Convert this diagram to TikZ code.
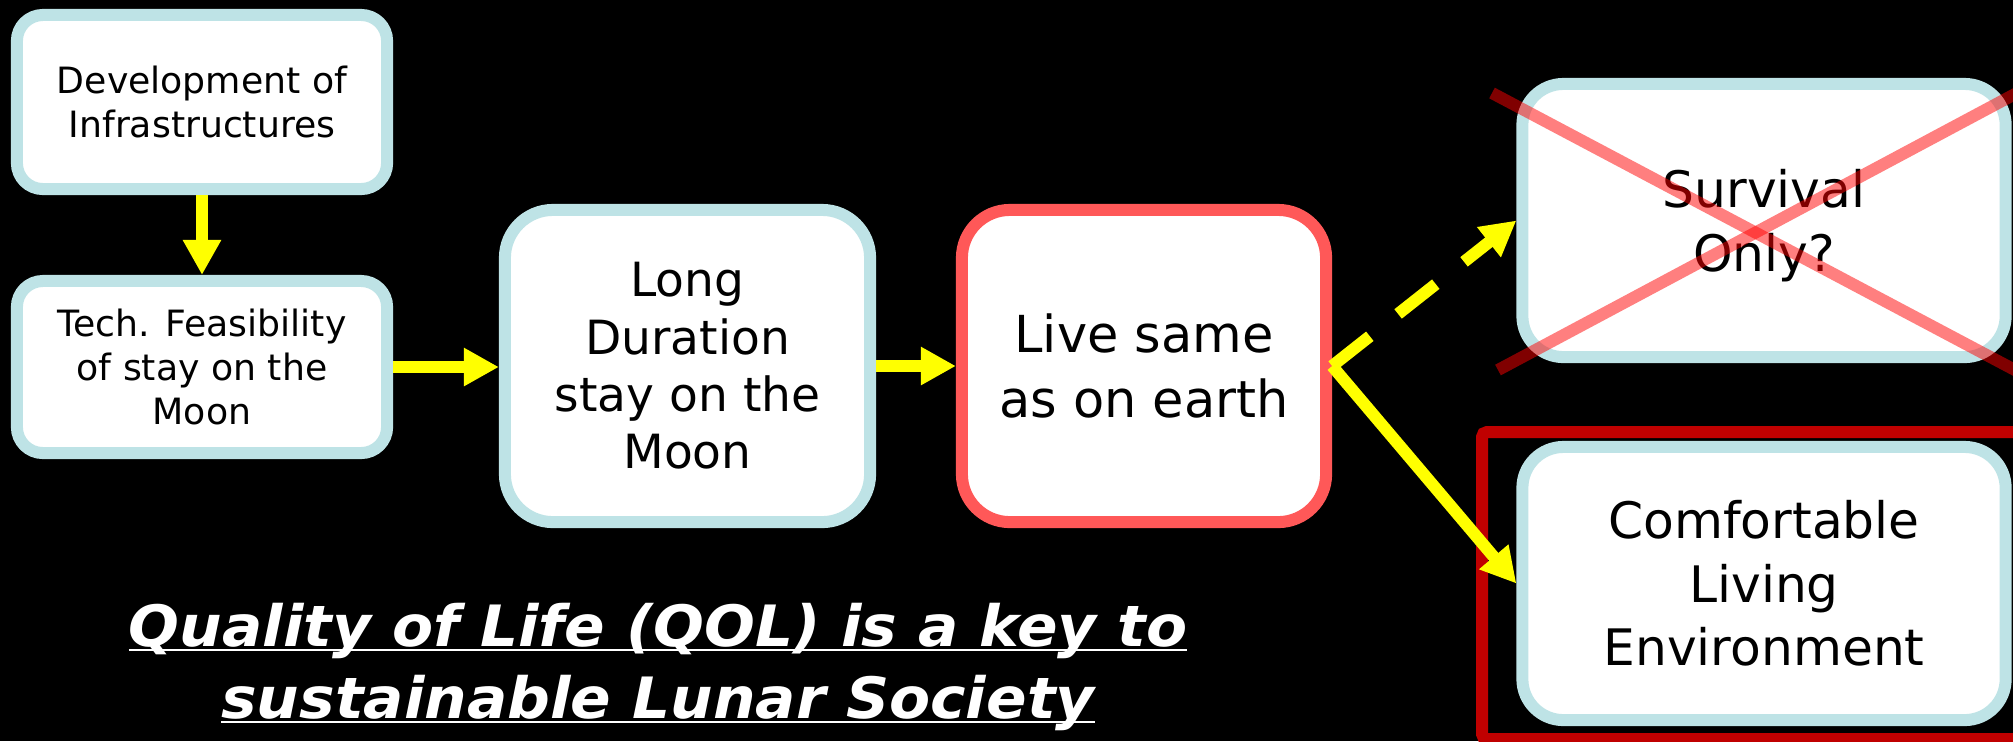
\documentclass[tikz,border=0pt]{standalone}
\usepackage{fontspec}
\setmainfont{DejaVu Sans}
\newfontfamily\qolfont{DejaVu Sans}[FakeStretch=1.05]
\usetikzlibrary{arrows.meta}
\definecolor{boxblue}{RGB}{190,227,230}
\definecolor{boxred}{RGB}{255,88,88}
\definecolor{framered}{RGB}{192,0,0}
\definecolor{arrowyellow}{RGB}{255,255,0}
\newcommand\qolul[1]{\setbox0\hbox{#1}\rlap{\rule[-1.5pt]{\wd0}{0.75pt}}\box0}
\tikzset{
  card/.style={draw=boxblue, fill=white, line width=1.2mm, inner sep=0pt, align=center, text=black},
  redcard/.style={card, draw=boxred},
  smalltext/.style={font=\fontsize{10.3}{12.4}\selectfont},
  midtext/.style={font=\fontsize{13.4}{16.3}\selectfont},
  bigtext/.style={font=\fontsize{14.5}{18.5}\selectfont},
  bigtextb/.style={font=\fontsize{14.3}{18}\selectfont},
  yarrow/.style={draw=arrowyellow, line width=1.2mm, -{Triangle[length=3.5mm,width=3.6mm]}},
  dasharrow/.style={yarrow, dash pattern=on 4.8mm off 3.6mm},
  xline/.style={draw=red, line width=1.2mm, draw opacity=0.5},
  frame/.style={draw=framered, line width=1.2mm, rounded corners=0.5mm},
  qol/.style={text=white, inner sep=0pt, font=\qolfont\fontsize{16.2}{20}\selectfont\bfseries\itshape}
}
\begin{document}
\begin{tikzpicture}[x=0.01cm,y=-0.01cm]
\clip (0,0) rectangle (2013,741);
\fill[black] (0,0) rectangle (2013,741);
\draw[frame] (1482,432) rectangle (2040,739);

\node[card, smalltext, rounded corners=2.6mm, minimum width=3.70cm, minimum height=1.74cm] (B1) at (202,102) {Development of\\Infrastructures};
\node[card, smalltext, rounded corners=2.6mm, minimum width=3.70cm, minimum height=1.72cm] (B2) at (202,367) {Tech. Feasibility\\of stay on the\\Moon};
\node[card, midtext, rounded corners=4.8mm, minimum width=3.65cm, minimum height=3.12cm] (B3) at (687.5,366) {Long\\Duration\\stay on the\\Moon};
\node[redcard, bigtext, rounded corners=4.8mm, minimum width=3.64cm, minimum height=3.12cm] (B4) at (1144,366) {Live same\\as on earth};
\node[card, bigtextb, text depth=0pt, rounded corners=4.1mm, minimum width=4.83cm, minimum height=2.73cm] (B5) at (1764,220.5) {Survival\\Only?};
\node[card, bigtextb, rounded corners=4.1mm, minimum width=4.83cm, minimum height=2.73cm] (B6) at (1764,583.5) {Comfortable\\Living\\Environment};

\draw[yarrow] (B1.south) -- (B2.north);
\draw[yarrow] (B2.east) -- (B2.east -| B3.west);
\draw[yarrow] (B3.east) -- (B4.west);
\draw[dasharrow] (B4.east) -- (B5.west);
\draw[yarrow] (B4.east) -- (B6.west);

\coordinate (X1a) at (1492,93);
\coordinate (X1b) at (2030,378);
\coordinate (X2a) at (1498,370);
\coordinate (X2b) at (2030,86);
\draw[xline] (X1a) -- (X1b);
\draw[xline] (X2a) -- (X2b);

\node[qol, anchor=base] (Q1) at (658,646) {\qolul{Quality of Life (QOL) is a key to}};
\node[qol, anchor=base] (Q2) at (658,718) {\qolul{sustainable Lunar Society}};
\end{tikzpicture}
\end{document}
